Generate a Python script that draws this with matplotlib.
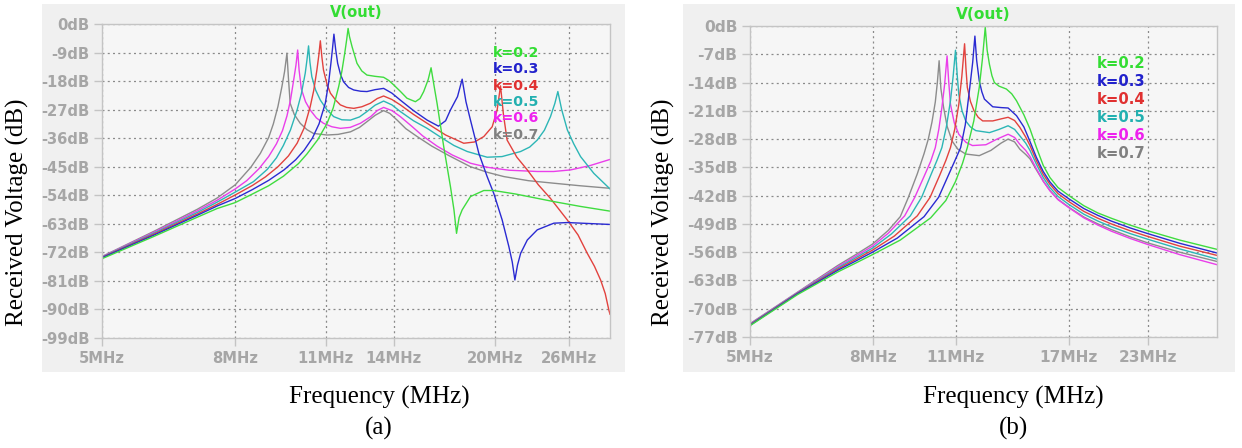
import matplotlib
matplotlib.use("Agg")
import matplotlib.pyplot as plt
from matplotlib.patches import Rectangle
from matplotlib.ticker import NullLocator

# ---------------- (a) frequency in MHz / level in dB per coupling k ----------------
a_f_02 = [5, 6, 7, 7.5, 8, 8.5, 9.0, 9.48, 10.0, 10.3, 10.7, 11.06, 11.3, 11.52, 11.65,
          11.77, 11.85, 11.91, 11.97, 12.08, 12.29, 12.5, 12.73, 13.1, 13.5, 13.75, 13.99,
          14.33, 14.66, 15.1, 15.35, 15.55, 15.8, 15.96, 16.13, 16.3, 16.69, 17.09, 17.3,
          17.46, 17.62, 17.81, 18.34, 19.22, 19.91, 21.5, 23, 24.61, 27, 30]
a_db_02 = [-74.0, -67.0, -60.9, -58.2, -56.3, -53.6, -51.0, -48.0, -44.0, -41.0, -36.5,
           -31.3, -26.5, -19.8, -15.0, -9.2, -5.0, -1.4, -4.0, -7.2, -12.4, -14.8, -16.1,
           -16.5, -16.8, -17.8, -19.2, -21.3, -23.4, -24.5, -23.5, -21.3, -17.5, -13.8,
           -19.5, -25.0, -38.7, -51.3, -58.5, -66.0, -61.0, -58.6, -54.4, -52.5, -52.5,
           -53.6, -54.8, -56.0, -57.5, -59.0]

a_f_03 = [5, 6, 7, 7.5, 8, 8.5, 9.0, 9.5, 9.9, 10.2, 10.5, 10.75, 10.99, 11.12, 11.21,
          11.27, 11.33, 11.40, 11.48, 11.60, 11.72, 11.93, 12.15, 12.45, 12.73, 13.1, 13.5,
          13.9, 14.32, 15.0, 15.74, 16.38, 16.8, 17.09, 17.52, 17.81, 18.05, 18.34, 18.89,
          19.45, 19.91, 20.51, 21.0, 21.25, 21.45, 21.65, 21.89, 22.41, 23.21, 24.61,
          25.81, 30]
a_db_03 = [-73.7, -66.6, -60.3, -57.4, -55.0, -52.2, -49.3, -46.0, -42.8, -39.8, -36.0,
           -31.5, -25.0, -18.5, -12.4, -8.0, -3.2, -8.0, -12.4, -16.0, -18.2, -20.0, -20.8,
           -21.2, -21.3, -20.7, -20.3, -21.8, -24.0, -27.3, -30.3, -32.2, -30.5, -27.1,
           -22.9, -17.4, -24.5, -30.3, -40.8, -48.1, -53.4, -61.8, -70.2, -75.0, -80.7,
           -76.0, -72.3, -68.1, -64.9, -62.8, -62.6, -63.2]

a_f_04 = [5, 6, 7, 7.5, 8, 8.5, 8.9, 9.3, 9.65, 9.95, 10.2, 10.42, 10.55, 10.67, 10.74,
          10.80, 10.86, 10.92, 11.05, 11.19, 11.4, 11.59, 11.85, 12.15, 12.5, 12.88, 13.2,
          13.5, 13.9, 14.32, 15.0, 15.74, 16.8, 17.91, 18.6, 19.22, 19.8, 20.15, 20.39,
          20.6, 20.87, 21.6, 22.41, 23.3, 24.32, 25.81, 26.8, 27.69, 28.4, 29.02, 29.5,
          29.88, 30]
a_db_04 = [-73.6, -66.3, -59.9, -56.9, -53.9, -50.9, -48.2, -45.0, -41.6, -37.6, -32.8,
           -26.1, -21.0, -14.5, -10.0, -5.3, -10.5, -14.5, -18.8, -21.8, -24.0, -25.5,
           -26.3, -26.6, -26.1, -25.0, -23.5, -22.7, -23.8, -25.5, -28.5, -31.3, -35.0,
           -37.6, -37.2, -35.5, -32.4, -27.1, -19.5, -28.5, -36.6, -42.0, -46.0, -50.7,
           -55.0, -61.8, -66.5, -72.3, -76.4, -80.7, -85.0, -90.2, -91.5]

a_f_05 = [5, 6, 7, 7.5, 8, 8.53, 8.96, 9.25, 9.48, 9.72, 9.95, 10.1, 10.24, 10.3, 10.36,
          10.41, 10.48, 10.62, 10.8, 11.05, 11.32, 11.65, 12.01, 12.4, 12.73, 13.1, 13.5,
          13.9, 14.32, 15.0, 15.74, 16.6, 17.3, 18.13, 19.45, 20.5, 21.89, 22.6, 23.21,
          23.8, 24.32, 24.7, 24.96, 25.3, 25.81, 26.4, 27.04, 28.34, 30]
a_db_05 = [-73.5, -66.0, -59.4, -56.2, -53.0, -49.7, -45.8, -42.2, -38.3, -33.4, -27.1,
           -22.0, -15.5, -11.5, -6.9, -12.0, -16.6, -20.8, -24.0, -27.0, -29.2, -30.2,
           -30.3, -29.3, -27.6, -25.6, -24.3, -25.5, -27.6, -30.5, -32.9, -36.0, -38.3,
           -40.2, -42.0, -41.8, -40.2, -38.8, -36.6, -33.5, -29.2, -25.0, -21.3, -27.0,
           -33.4, -37.8, -41.8, -47.1, -52.0]

a_f_06 = [5, 6, 7, 7.5, 8, 8.33, 8.7, 9.0, 9.25, 9.45, 9.6, 9.72, 9.83, 9.91, 9.97,
          10.02, 10.1, 10.25, 10.42, 10.65, 10.92, 11.25, 11.59, 12.0, 12.44, 12.9, 13.2,
          13.5, 13.9, 14.32, 14.9, 15.5, 16.3, 17.2, 18.34, 19.5, 21, 23.21, 24.6, 26.11,
          28, 30]
a_db_06 = [-73.4, -65.7, -58.9, -55.6, -52.0, -49.4, -45.6, -41.8, -37.8, -33.6, -29.0,
           -24.0, -17.7, -13.0, -8.2, -14.5, -20.5, -24.5, -27.1, -29.6, -31.3, -32.4,
           -32.9, -32.6, -31.3, -29.2, -27.3, -26.3, -27.3, -29.2, -32.2, -35.3, -38.5,
           -41.3, -43.9, -45.2, -46.1, -46.5, -46.5, -46.0, -44.6, -42.7]

a_f_07 = [5, 6, 7, 7.5, 8, 8.45, 8.74, 9.0, 9.15, 9.3, 9.43, 9.52, 9.6, 9.65, 9.71, 9.85,
          10.06, 10.3, 10.54, 11.06, 11.5, 12.01, 12.4, 12.73, 13.1, 13.5, 13.8, 14.16,
          14.6, 15.2, 16, 17, 18.34, 19.5, 20.63, 22.5, 24.61, 27, 30]
a_db_07 = [-73.3, -65.4, -58.4, -54.9, -50.7, -45.2, -40.8, -35.8, -31.5, -26.0, -19.8,
           -15.0, -9.2, -17.0, -25.0, -28.5, -31.3, -33.3, -34.5, -35.0, -34.8, -34.0,
           -32.6, -30.8, -28.8, -27.3, -28.2, -30.3, -33.0, -35.5, -38.5, -41.5, -45.0,
           -46.8, -48.1, -49.4, -50.2, -51.0, -51.8]

# ---------------- (b) ----------------
b_f_02 = [5, 6, 7, 7.5, 8, 8.9, 10.0, 10.6, 11.0, 11.3, 11.51, 11.8, 12.05, 12.2, 12.33,
          12.42, 12.53, 12.65, 12.77, 13.0, 13.37, 13.65, 13.9, 14.3, 14.64, 15.0, 15.4,
          15.8, 16.3, 17, 18, 19, 20, 21.5, 23, 26, 30]
b_db_02 = [-74.2, -66.5, -60.9, -58.7, -56.6, -53.0, -47.5, -43.2, -38.5, -34.0, -30.1,
           -23.5, -15.2, -8.0, -0.3, -6.0, -9.5, -12.3, -14.0, -14.9, -15.6, -16.8, -18.5,
           -22.0, -25.5, -30.0, -34.5, -37.5, -40.0, -42.0, -44.5, -46.3, -47.6, -49.3,
           -50.7, -53.0, -55.3]

b_f_03 = [5, 6, 7, 7.5, 8, 8.8, 9.75, 10.31, 10.7, 11.0, 11.22, 11.42, 11.62, 11.75,
          11.85, 11.93, 12.05, 12.17, 12.29, 12.69, 13.1, 13.46, 13.9, 14.3, 14.64, 15.0,
          15.4, 15.8, 16.3, 17, 18, 19, 20, 21.5, 23, 26, 30]
b_db_03 = [-74.1, -66.3, -60.5, -58.2, -56.0, -52.5, -47.2, -42.4, -37.0, -33.0, -30.1,
           -24.5, -15.2, -9.0, -2.5, -8.5, -13.6, -16.3, -18.1, -20.0, -20.2, -20.3, -22.2,
           -25.0, -28.6, -32.5, -36.0, -38.6, -40.9, -42.8, -45.2, -46.9, -48.3, -50.0,
           -51.4, -53.8, -56.2]

b_f_04 = [5, 6, 7, 7.5, 8, 8.7, 9.5, 9.98, 10.35, 10.6, 10.79, 10.97, 11.14, 11.27,
          11.39, 11.45, 11.51, 11.65, 11.81, 12.0, 12.21, 12.69, 13.1, 13.46, 13.8, 14.08,
          14.4, 14.64, 15.0, 15.4, 15.8, 16.3, 17, 18, 19, 20, 21.5, 23, 26, 30]
b_db_04 = [-74.0, -66.2, -60.2, -57.8, -55.5, -52.0, -47.0, -42.4, -37.0, -33.3, -30.1,
           -25.5, -19.4, -12.5, -4.4, -10.5, -15.2, -18.7, -21.0, -22.6, -23.5, -23.5,
           -23.0, -22.6, -23.4, -25.1, -27.5, -29.6, -33.3, -36.7, -39.2, -41.5, -43.5,
           -45.9, -47.6, -49.0, -50.7, -52.1, -54.5, -56.8]

b_f_05 = [5, 6, 7, 7.5, 8, 8.6, 9.25, 9.66, 10.0, 10.25, 10.44, 10.62, 10.79, 10.9, 11.0,
          11.07, 11.14, 11.28, 11.44, 11.65, 11.89, 12.53, 13.0, 13.46, 13.8, 14.08, 14.4,
          14.64, 15.0, 15.4, 15.8, 16.3, 17, 18, 19, 20, 21.5, 23, 26, 30]
b_db_05 = [-73.9, -66.1, -59.9, -57.4, -55.0, -51.5, -47.0, -42.4, -37.0, -33.2, -30.1,
           -25.0, -18.5, -12.5, -6.0, -12.0, -16.9, -21.0, -23.5, -25.0, -25.9, -26.4,
           -25.6, -24.7, -25.6, -27.2, -29.0, -30.8, -34.2, -37.5, -40.0, -42.2, -44.2,
           -46.6, -48.3, -49.7, -51.4, -52.8, -55.2, -57.7]

b_f_06 = [5, 6, 7, 7.5, 8, 8.5, 9.05, 9.41, 9.8, 10.0, 10.18, 10.32, 10.44, 10.55, 10.65,
          10.72, 10.79, 10.95, 11.14, 11.45, 11.74, 12.36, 12.9, 13.46, 13.8, 14.08, 14.4,
          14.64, 15.0, 15.4, 15.8, 16.3, 17, 18, 19, 20, 21.5, 23, 26, 30]
b_db_06 = [-73.8, -66.0, -59.6, -57.0, -54.5, -51.3, -47.0, -42.4, -36.5, -33.5, -30.1,
           -25.5, -20.2, -14.5, -7.4, -14.0, -19.4, -24.0, -26.8, -28.8, -29.6, -29.4,
           -28.0, -26.8, -27.6, -29.3, -30.8, -32.3, -35.3, -38.4, -40.8, -43.0, -45.0,
           -47.5, -49.3, -50.8, -52.6, -54.1, -56.6, -59.1]

b_f_07 = [5, 6, 7, 7.5, 8, 8.5, 8.9, 9.17, 9.5, 9.75, 9.91, 10.05, 10.18, 10.26, 10.33,
          10.4, 10.51, 10.65, 10.86, 11.1, 11.44, 12.05, 12.6, 13.1, 13.46, 13.8, 14.08,
          14.4, 14.64, 15.0, 15.4, 15.8, 16.3, 17, 18, 19, 20, 21.5, 23, 26, 30]
b_db_07 = [-73.7, -65.9, -59.3, -56.6, -54.0, -50.6, -47.2, -42.6, -36.6, -31.6, -28.0,
           -23.8, -18.8, -14.0, -8.6, -15.5, -20.2, -24.8, -28.5, -30.5, -31.7, -32.1,
           -30.8, -29.0, -28.0, -28.7, -30.5, -31.8, -32.9, -35.6, -38.4, -40.7, -42.9,
           -44.9, -47.3, -49.0, -50.4, -52.2, -53.7, -56.0, -58.3]

k_names = ["k=0.2", "k=0.3", "k=0.4", "k=0.5", "k=0.6", "k=0.7"]

a_xticks = [5, 8, 11, 14, 20, 26]
a_yticks = [0, -9, -18, -27, -36, -45, -54, -63, -72, -81, -90, -99]
b_xticks = [5, 8, 11, 17, 23]
b_yticks = [0, -7, -14, -21, -28, -35, -42, -49, -56, -63, -70, -77]

trace_colors = ["#3fdc3f", "#2a2ad2", "#e2423e", "#2cb6b6", "#ea3eea", "#8c8c8c"]
key_colors = ["#33dd33", "#2222cc", "#e03030", "#22b0b0", "#ee22ee", "#808080"]

PANEL_BG = "#f0f0f0"
PLOT_BG = "#f6f6f6"
TICK_GRAY = "#a6a6a6"
FRAME_GRAY = "#c4c4c4"


def draw_panel(ax, curves, xticks, yticks, key_xy, key_step, fs):
    ax.set_facecolor(PLOT_BG)
    # draw k=0.7 first so the low-k traces sit on top
    for (f, db), col in reversed(list(zip(curves, trace_colors))):
        ax.plot(f, db, color=col, lw=1.0, solid_joinstyle="round")

    ax.set_xscale("log")
    ax.set_xlim(5, 30)
    ax.set_ylim(yticks[-1], 0)
    ax.set_xticks(xticks, labels=[f"{v}MHz" for v in xticks])
    ax.xaxis.set_minor_locator(NullLocator())
    ax.set_yticks(yticks, labels=[f"{v}dB" for v in yticks])

    ax.grid(True, color="#8a8a8a", linestyle=(0, (1.6, 2.6)), lw=0.9)
    ax.set_axisbelow(True)
    for sp in ax.spines.values():
        sp.set_color(FRAME_GRAY)
        sp.set_linewidth(1.0)
    ax.tick_params(axis="both", colors=FRAME_GRAY, labelcolor=TICK_GRAY,
                   length=6, width=1.0, labelsize=fs, pad=3)
    for lbl in ax.get_xticklabels() + ax.get_yticklabels():
        lbl.set_fontweight("bold")

    ax.text(0.5, 1.012, "V(out)", transform=ax.transAxes, ha="center", va="bottom",
            color="#33dd33", fontsize=fs, fontweight="bold")

    kx, ky = key_xy
    for i, (name, col) in enumerate(zip(k_names, key_colors)):
        ax.text(kx, ky - i * key_step, name, transform=ax.transAxes, ha="left",
                va="center", color=col, fontsize=fs - 0.4, fontweight="bold")


fig = plt.figure(figsize=(12.42, 4.48), dpi=100)
fig.patch.set_facecolor("white")

# grey screenshot backgrounds behind each plot
for x0, x1 in [(42, 625), (683, 1235)]:
    fig.patches.append(Rectangle((x0 / 1242, 1 - 372 / 448), (x1 - x0) / 1242,
                                 368 / 448, transform=fig.transFigure,
                                 facecolor=PANEL_BG, edgecolor="none", zorder=-10))

ax_a = fig.add_axes([102 / 1242, 1 - 338 / 448, 508 / 1242, 314 / 448])
ax_b = fig.add_axes([750 / 1242, 1 - 337 / 448, 467 / 1242, 311 / 448])

curves_a = [(a_f_02, a_db_02), (a_f_03, a_db_03), (a_f_04, a_db_04),
            (a_f_05, a_db_05), (a_f_06, a_db_06), (a_f_07, a_db_07)]
curves_b = [(b_f_02, b_db_02), (b_f_03, b_db_03), (b_f_04, b_db_04),
            (b_f_05, b_db_05), (b_f_06, b_db_06), (b_f_07, b_db_07)]

draw_panel(ax_a, curves_a, a_xticks, a_yticks, (0.770, 0.908), 0.052, 10.6)
draw_panel(ax_b, curves_b, b_xticks, b_yticks, (0.742, 0.881), 0.058, 11.1)

serif = ["Liberation Serif", "DejaVu Serif"]
for x_lab, x_cap, cap in [(17, 379, "(a)"), (663, 1013, "(b)")]:
    fig.text(x_lab / 1242, 1 - 212 / 448, "Received Voltage (dB)", rotation=90,
             ha="center", va="center", fontsize=18, family=serif)
    fig.text(x_cap / 1242, 1 - 397 / 448, "Frequency (MHz)", ha="center",
             va="center", fontsize=18, family=serif)
    fig.text(x_cap / 1242, 1 - 428 / 448, cap, ha="center", va="center",
             fontsize=18, family=serif)

fig.savefig("out.png", dpi=100)
